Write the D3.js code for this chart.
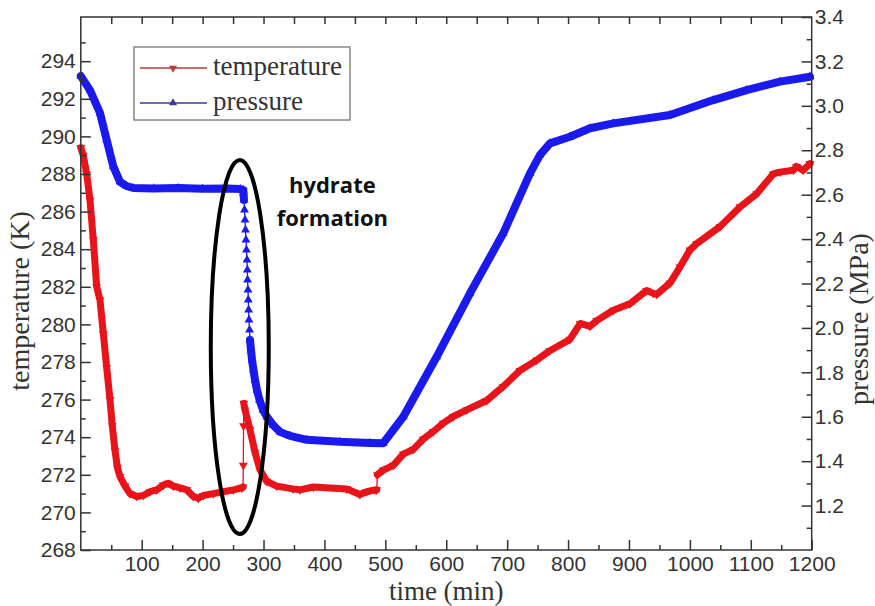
<!DOCTYPE html>
<html><head><meta charset="utf-8">
<script src="https://cdn.jsdelivr.net/npm/d3@7"></script>
<style>body{margin:0;background:#fff}svg{display:block}</style>
</head><body>
<svg id="c" width="875" height="606"></svg>
<script>
// ---- data ----
const timeT = [0,4,9.7,15.1,20.5,26.1,31.5,37,42.5,47.9,51.7,56.1,60,64.4,72.6,80.8,91.8,102.6,113.6,124.6,135.4,143.7,151.9,162.9,173.9,184.7,193,201.1,217.5,234,250.4,264.2,266.4,266.8,267.2,267.6,269.6,277.8,286,294.3,305.2,321.6,348.4,359.8,381.7,436.5,458.3,469.4,483,485.8,487,496.6,513,529.5,545.9,562.3,578.7,595.1,611.6,633.6,666.4,693.6,721,748.5,770,803,820,836,847,874.2,901.6,929,939.9,945.5,967.3,983.7,1000,1011.2,1049.5,1082.3,1109.7,1136.9,1148,1169.8,1175,1186,1197.2];
const tempK = [289.4,289.0,288.0,286.6,284.5,282.0,281.3,279.5,277.7,276.0,274.6,273.3,272.4,271.9,271.4,271.0,270.85,270.9,271.1,271.2,271.45,271.55,271.4,271.3,271.2,270.85,270.75,270.9,271.0,271.1,271.2,271.3,271.35,272.5,274.6,275.8,275.45,274.4,273.2,272.25,271.65,271.4,271.25,271.2,271.35,271.25,270.95,271.1,271.2,271.2,272.0,272.25,272.5,273.1,273.35,273.9,274.3,274.75,275.1,275.45,275.95,276.7,277.55,278.1,278.6,279.2,280.05,279.9,280.2,280.75,281.1,281.8,281.65,281.6,282.2,283.05,283.95,284.3,285.2,286.25,286.95,288.0,288.1,288.2,288.4,288.2,288.55];

const timeP = [0,15,31.5,42.5,53.5,64.4,75,86,120,160,200,240,262,266.8,267.1,267.9,268.8,269.6,270.4,271.2,272.0,272.9,273.4,273.8,274.5,275.0,275.5,276.1,277.0,277.8,279.4,281.1,283.5,286.0,289.2,293.4,299.1,305.7,315.5,327.0,343.5,370.9,425.5,474.7,496.6,529.5,584.3,639,693.6,737.5,754,770.3,803.1,836,874.2,967.3,1038.4,1093.3,1148,1197.2];
const pressMPa = [3.134,3.071,2.968,2.846,2.726,2.658,2.639,2.630,2.628,2.630,2.627,2.628,2.625,2.621,2.608,2.576,2.531,2.486,2.441,2.396,2.351,2.306,2.261,2.216,2.171,2.126,2.081,2.036,1.991,1.946,1.901,1.856,1.811,1.766,1.721,1.676,1.631,1.599,1.563,1.532,1.514,1.496,1.487,1.482,1.481,1.600,1.870,2.156,2.426,2.696,2.779,2.831,2.861,2.899,2.921,2.959,3.026,3.071,3.109,3.131];

const xMajor = [100,200,300,400,500,600,700,800,900,1000,1100,1200];
const xMinor = [50,150,250,350,450,550,650,750,850,950,1050,1150];
const xTop = [50,100,150,200,250,300,350,400,450,500,550,600,650,700,750,800,850,900,950,1000,1050,1100,1150];
const tMajor = [268,270,272,274,276,278,280,282,284,286,288,290,292,294];
const tMinor = [269,271,273,275,277,279,281,283,285,287,289,291,293,295];
const pMajor = [1.2,1.4,1.6,1.8,2.0,2.2,2.4,2.6,2.8,3.0,3.2,3.4];
const pMinor = [1.1,1.3,1.5,1.7,1.9,2.1,2.3,2.5,2.7,2.9,3.1,3.3];

const seriesNames = ["temperature","pressure"];
const annotationLines = ["hydrate","formation"];

// ---- layout ----
const svg = d3.select("#c");
const m = {l:80.8, r:811.7, t:17, b:550};
const x = d3.scaleLinear().domain([0,1200]).range([m.l,m.r]);
const yT = d3.scaleLinear().domain([268,296.35]).range([m.b,m.t]);
const yP = d3.scaleLinear().domain([1.0,3.4]).range([m.b,m.t]);

const AX = "#333";
const tickFont = "'Liberation Sans', Arial, sans-serif";
const serif = "'Liberation Serif', 'Times New Roman', serif";
const RED = "#e8141a", BLUE = "#1a1aee";

function styleAxis(g){
  g.select(".domain").remove();
  g.selectAll("line").attr("stroke",AX).attr("stroke-width",1.5);
  g.selectAll("text").attr("fill","#333").style("font-family",tickFont).style("font-size","21px");
}

// ---- series ----
function drawSeries(ts, vs, yS, color, bandW, rot){
  const pts = ts.map((t,i)=>[x(t), yS(vs[i])]);
  const g = svg.append("g");
  g.append("path").attr("d", d3.line()(pts)).attr("fill","none")
    .attr("stroke",color).attr("stroke-width",1.3);
  const runs=[]; let cur=null;
  for(let i=1;i<pts.length;i++){
    const dx=Math.abs(pts[i][0]-pts[i-1][0]), dy=Math.abs(pts[i][1]-pts[i-1][1]);
    if(dy <= 15*dx){ if(!cur){cur=[pts[i-1]]; runs.push(cur);} cur.push(pts[i]); }
    else cur=null;
  }
  runs.forEach(r=>g.append("path").attr("d", d3.line()(r)).attr("fill","none")
    .attr("stroke",color).attr("stroke-width",bandW)
    .attr("stroke-linejoin","round").attr("stroke-linecap","round"));
  g.selectAll("path.mk").data(pts).join("path").attr("class","mk")
    .attr("d", d3.symbol(d3.symbolTriangle, 34)())
    .attr("transform", d=>`translate(${d[0]},${d[1]}) rotate(${rot})`)
    .attr("fill", color);
}

drawSeries(timeP, pressMPa, yP, BLUE, 8, 0);
drawSeries(timeT, tempK, yT, RED, 7, 180);

// ---- axes ----
svg.append("g").attr("transform",`translate(0,${m.b})`)
  .call(d3.axisBottom(x).tickValues(xMajor).tickSize(-10).tickPadding(6).tickFormat(d3.format("d"))).call(styleAxis);
svg.append("g").attr("transform",`translate(0,${m.b})`)
  .call(d3.axisBottom(x).tickValues(xMinor).tickSize(-5).tickFormat("")).call(styleAxis);
svg.append("g").attr("transform",`translate(0,${m.t})`)
  .call(d3.axisTop(x).tickValues(xTop).tickSize(-7).tickFormat("")).call(styleAxis);
svg.append("g").attr("transform",`translate(${m.l},0)`)
  .call(d3.axisLeft(yT).tickValues(tMajor).tickSize(-10).tickPadding(5).tickFormat(d3.format("d"))).call(styleAxis);
svg.append("g").attr("transform",`translate(${m.l},0)`)
  .call(d3.axisLeft(yT).tickValues(tMinor).tickSize(-5).tickFormat("")).call(styleAxis);
svg.append("g").attr("transform",`translate(${m.r},0)`)
  .call(d3.axisRight(yP).tickValues(pMajor).tickSize(-10).tickPadding(3).tickFormat(d3.format(".1f"))).call(styleAxis);
svg.append("g").attr("transform",`translate(${m.r},0)`)
  .call(d3.axisRight(yP).tickValues(pMinor).tickSize(-5).tickFormat("")).call(styleAxis);

svg.append("rect").attr("x",m.l).attr("y",m.t).attr("width",m.r-m.l).attr("height",m.b-m.t)
  .attr("fill","none").attr("stroke",AX).attr("stroke-width",1.5);

// ---- axis titles ----
svg.append("text").attr("x",(m.l+m.r)/2).attr("y",600).attr("text-anchor","middle")
  .style("font-family",serif).style("font-size","27px").attr("fill","#333").text("time (min)");
svg.append("text").attr("transform","translate(29,301) rotate(-90)").attr("text-anchor","middle")
  .style("font-family",serif).style("font-size","28px").attr("fill","#333").text("temperature (K)");
svg.append("text").attr("transform","translate(868,319) rotate(-90)").attr("text-anchor","middle")
  .style("font-family",serif).style("font-size","28px").attr("fill","#333").text("pressure (MPa)");

// ---- legend ----
const lg = svg.append("g");
lg.append("rect").attr("x",134).attr("y",47).attr("width",216).attr("height",73)
  .attr("fill","#fff").attr("stroke","#888").attr("stroke-width",1.5);
const legCols = ["#b83a3a","#3a3a9a"], legY=[68,103], legRot=[180,0];
seriesNames.forEach((n,i)=>{
  lg.append("line").attr("x1",140).attr("x2",207).attr("y1",legY[i]).attr("y2",legY[i])
    .attr("stroke",legCols[i]).attr("stroke-width",1.6);
  lg.append("path").attr("d",d3.symbol(d3.symbolTriangle,28)())
    .attr("transform",`translate(173,${legY[i]}) rotate(${legRot[i]})`).attr("fill",legCols[i]);
  lg.append("text").attr("x",213).attr("y",legY[i]+7).style("font-family",serif)
    .style("font-size","27px").attr("fill","#333").text(n);
});

// ---- annotation ----
svg.append("ellipse").attr("cx",x(261)).attr("cy",yT(278.8))
  .attr("rx",x(261+47.6)-x(261)).attr("ry",yT(278.8)-yT(288.75))
  .attr("fill","none").attr("stroke","#000").attr("stroke-width",4);
const annT = [286.98, 285.22];
annotationLines.forEach((s,i)=>{
  svg.append("text").attr("x",x(413)).attr("y",yT(annT[i])).attr("text-anchor","middle")
    .style("font-family","'Open Sans', sans-serif").style("font-weight","700")
    .style("font-size","22px").attr("fill","#111").text(s);
});
</script>
</body></html>
